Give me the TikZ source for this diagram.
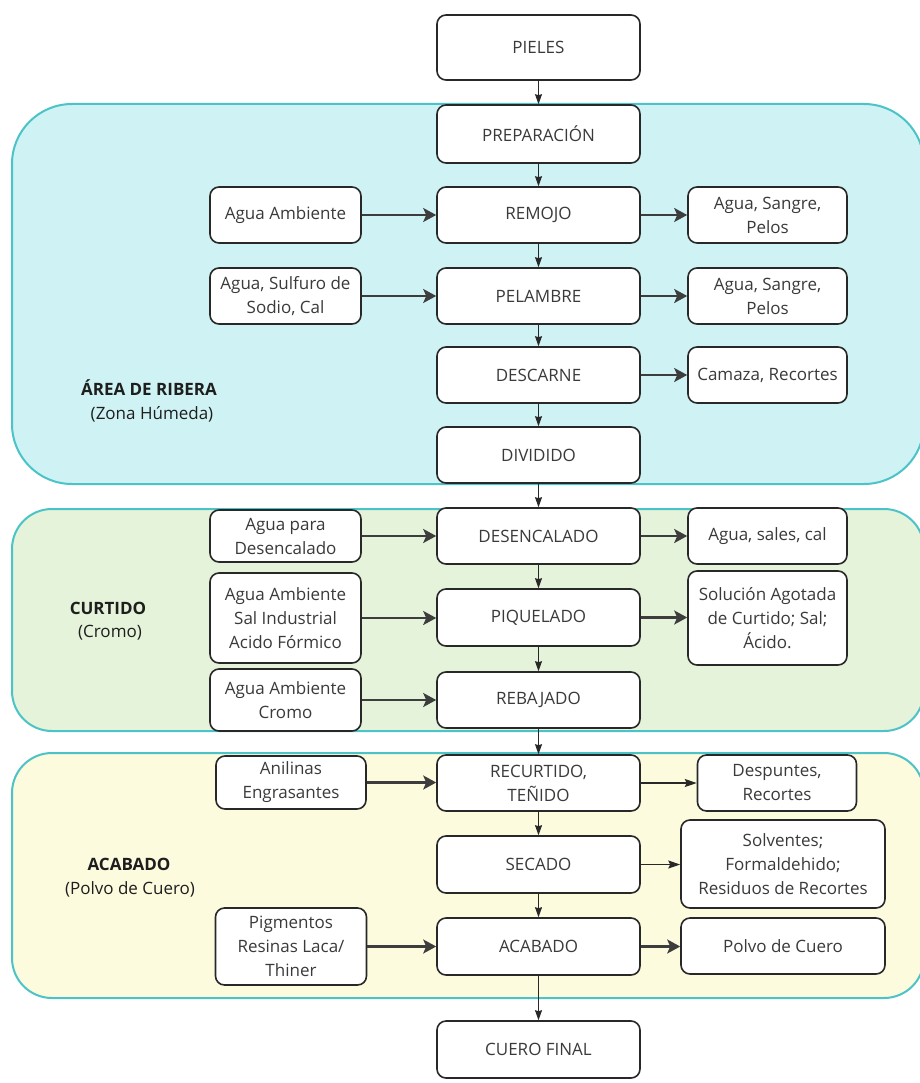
\documentclass[tikz,border=0pt]{standalone}
\usepackage{fontspec}
\setmainfont{Open Sans}
\usetikzlibrary{arrows.meta}
\definecolor{cyanfill}{RGB}{207,243,244}
\definecolor{greenfill}{RGB}{229,243,218}
\definecolor{yellowfill}{RGB}{253,251,222}
\definecolor{zoneborder}{RGB}{76,195,198}
\definecolor{boxborder}{RGB}{40,40,40}
\definecolor{txt}{RGB}{58,58,58}
\definecolor{lbl}{RGB}{30,30,30}
\begin{document}
\begin{tikzpicture}[x=1pt,y=-1pt,
  box/.style={draw=boxborder, line width=1.6pt, fill=white, rounded corners=9pt,
    inner sep=0pt, align=center, text=txt, font=\fontsize{17}{24}\selectfont},
  cbox/.style={box, minimum width=203pt},
  lbox/.style={box, minimum width=151pt},
  rbox/.style={box, minimum width=159pt},
  zone/.style={draw=zoneborder, line width=2pt},
  zonelabel/.style={align=center, text=lbl, font=\fontsize{17}{24}\selectfont},
  varrow/.style={draw=boxborder, line width=0.9pt, -{Stealth[length=10pt,width=7pt,inset=1pt]}},
  harrow/.style={draw=boxborder!90!white, line width=2.2pt, -{Stealth[length=13pt,width=14pt,inset=3pt]}},
  tharrow/.style={draw=boxborder, line width=1.1pt, -{Stealth[length=12pt,width=8pt,inset=2pt]}}
]
\useasboundingbox (0,0) rectangle (919,1083);
\fill[white] (0,0) rectangle (919,1083);

% zones
\draw[zone, fill=cyanfill, rounded corners=60pt] (12,104) rectangle (924,484);
\draw[zone, fill=greenfill, rounded corners=40pt] (12,509) rectangle (924,731);
\draw[zone, fill=yellowfill, rounded corners=40pt] (12,753) rectangle (924,998);

% zone labels
\node[zonelabel] (zl1) at (149,388) {\textbf{ÁREA DE RIBERA}};
\node[zonelabel] (zl1b) at (152,414) {(Zona Húmeda)};
\node[zonelabel] (zl2) at (108,608) {\textbf{CURTIDO}};
\node[zonelabel] (zl2b) at (110,633) {(Cromo)};
\node[zonelabel] (zl3) at (129,864) {\textbf{ACABADO}};
\node[zonelabel] (zl3b) at (130,889) {(Polvo de Cuero)};

% central column
\node[cbox, minimum height=65pt] (pieles) at (538.5,47.5) {PIELES};
\node[cbox, minimum height=58pt] (prep) at (538.5,134) {PREPARACIÓN};
\node[cbox, minimum height=56pt] (remojo) at (538.5,215) {REMOJO};
\node[cbox, minimum height=56pt] (pelambre) at (538.5,296) {PELAMBRE};
\node[cbox, minimum height=56pt] (descarne) at (538.5,375) {DESCARNE};
\node[cbox, minimum height=56pt] (dividido) at (538.5,455) {DIVIDIDO};
\node[cbox, minimum height=56pt] (desenc) at (538.5,536) {DESENCALADO};
\node[cbox, minimum height=57pt] (piquel) at (538.5,617.5) {PIQUELADO};
\node[cbox, minimum height=56pt] (rebaj) at (538.5,700) {REBAJADO};
\node[cbox, minimum height=56pt] (recurt) at (538.5,783) {RECURTIDO,\\TEÑIDO};
\node[cbox, minimum height=57pt] (secado) at (538.5,864.5) {SECADO};
\node[cbox, minimum height=57pt] (acabado) at (538.5,946.5) {ACABADO};
\node[cbox, minimum height=57pt] (cuero) at (538.5,1049.5) {CUERO FINAL};

% left inputs
\node[lbox, minimum height=56pt] (l1) at (285.5,215) {Agua Ambiente};
\node[lbox, minimum height=56pt] (l2) at (285.5,296) {Agua, Sulfuro de\\Sodio, Cal};
\node[lbox, minimum height=52pt] (l3) at (285.5,536) {Agua para\\Desencalado};
\node[lbox, minimum height=90pt] (l4) at (285.5,618) {Agua Ambiente\\Sal Industrial\\Acido Fórmico};
\node[lbox, minimum height=62pt] (l5) at (285.5,700) {Agua Ambiente\\Cromo};
\node[box, minimum width=150pt, minimum height=53pt] (l6) at (291,782.5) {Anilinas\\Engrasantes};
\node[box, minimum width=151pt, minimum height=77pt] (l7) at (291,946.5) {Pigmentos\\Resinas Laca/\\Thiner};

% right outputs
\node[rbox, minimum height=56pt] (r1) at (767.5,215) {Agua, Sangre,\\Pelos};
\node[rbox, minimum height=56pt] (r2) at (767.5,296) {Agua, Sangre,\\Pelos};
\node[rbox, minimum height=56pt] (r3) at (767.5,375) {Camaza, Recortes};
\node[rbox, minimum height=56pt] (r4) at (767.5,536) {Agua, sales, cal};
\node[rbox, minimum height=94pt] (r5) at (767.5,618) {Solución Agotada\\de Curtido; Sal;\\Ácido.};
\node[box, minimum width=159pt, minimum height=56pt] (r6) at (777,783) {Despuntes,\\Recortes};
\node[box, minimum width=204pt, minimum height=88pt] (r7) at (783,864) {Solventes;\\Formaldehido;\\Residuos de Recortes};
\node[box, minimum width=204pt, minimum height=56pt] (r8) at (783,946) {Polvo de Cuero};

% vertical flow
\draw[varrow] (pieles) -- (prep);
\draw[varrow] (prep) -- (remojo);
\draw[varrow] (remojo) -- (pelambre);
\draw[varrow] (pelambre) -- (descarne);
\draw[varrow] (descarne) -- (dividido);
\draw[varrow] (dividido) -- (desenc);
\draw[varrow] (desenc) -- (piquel);
\draw[varrow] (piquel) -- (rebaj);
\draw[varrow] (rebaj) -- (recurt);
\draw[varrow] (recurt) -- (secado);
\draw[varrow] (secado) -- (acabado);
\draw[varrow] (acabado) -- (cuero);

% inputs
\draw[harrow] (l1.east) -- (remojo.west |- l1.east);
\draw[harrow] (l2.east) -- (pelambre.west |- l2.east);
\draw[harrow] (l3.east) -- (desenc.west |- l3.east);
\draw[harrow] (l4.east) -- (piquel.west |- l4.east);
\draw[harrow] (l5.east) -- (rebaj.west |- l5.east);
\draw[harrow] (l6.east) -- (recurt.west |- l6.east);
\draw[harrow] (l7.east) -- (acabado.west |- l7.east);

% outputs
\draw[harrow] (remojo.east) -- (r1.west |- remojo.east);
\draw[harrow] (pelambre.east) -- (r2.west |- pelambre.east);
\draw[harrow] (descarne.east) -- (r3.west |- descarne.east);
\draw[harrow] (desenc.east) -- (r4.west |- desenc.east);
\draw[harrow] (piquel.east) -- (r5.west |- piquel.east);
\draw[tharrow] (recurt.east) -- (r6.west |- recurt.east);
\draw[tharrow] (secado.east) -- (r7.west |- secado.east);
\draw[harrow] (acabado.east) -- (r8.west |- acabado.east);
\end{tikzpicture}
\end{document}
